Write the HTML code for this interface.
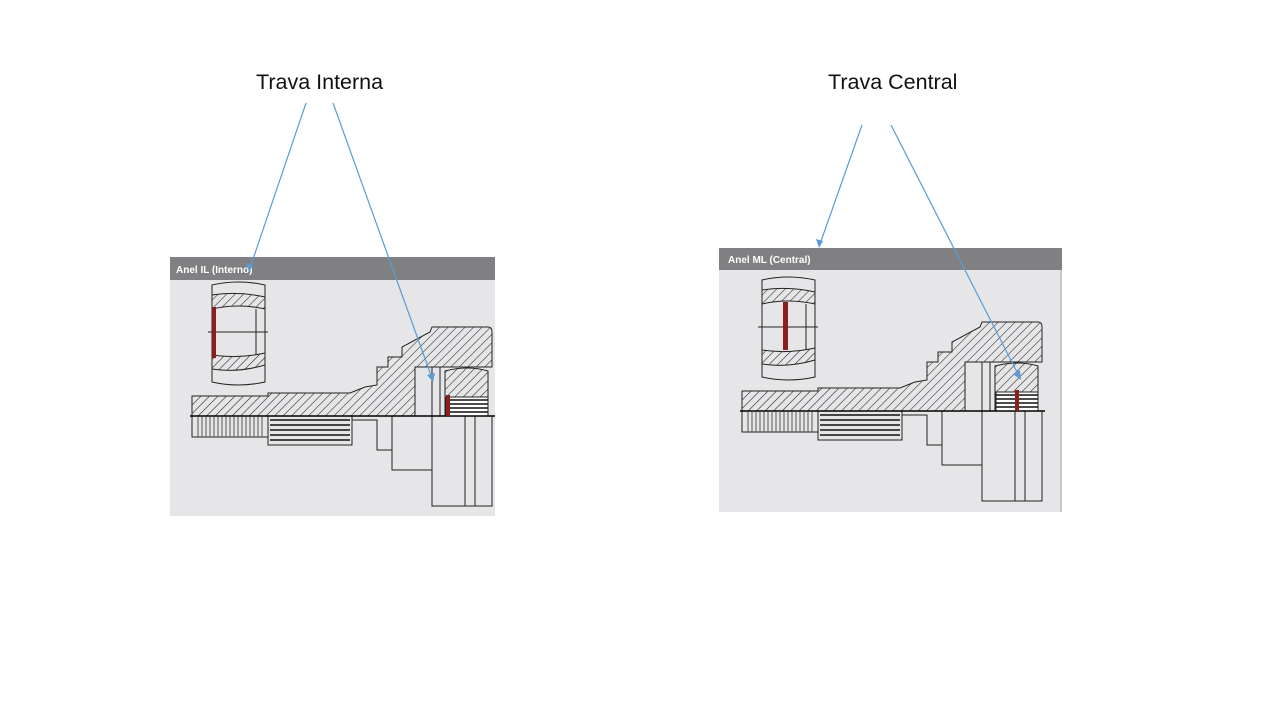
<!DOCTYPE html>
<html><head><meta charset="utf-8"><style>
html,body{margin:0;padding:0;background:#fff;}
body{width:1280px;height:720px;overflow:hidden;position:relative;font-family:"Liberation Sans",sans-serif;}
.t{position:absolute;font-size:21.5px;color:#111;white-space:nowrap;}
</style></head><body>
<div class="t" style="left:256px;top:70px;">Trava Interna</div>
<div class="t" style="left:828px;top:70px;">Trava Central</div>
<svg width="1280" height="720" style="position:absolute;left:0;top:0">
<defs>
<pattern id="h" width="6" height="6" patternUnits="userSpaceOnUse" patternTransform="rotate(45)">
<rect width="6" height="6" fill="#e6e6e8"/><line x1="0" y1="0" x2="0" y2="6" stroke="#222" stroke-width="1.1"/>
</pattern>
<g id="part" stroke="#222" stroke-width="1" fill="none">
<rect x="0" y="0" width="325" height="259" fill="#e6e6e8" stroke="none"/>
<path d="M42,28 Q68,22 95,28 L95,125 Q68,131 42,125 Z" fill="#e6e6e8"/>
<path d="M42,38 Q68,34 95,40 L95,52 Q68,46 42,52 Z" fill="url(#h)"/>
<path d="M42,98 Q68,102 95,96 L95,108 Q68,116 42,112 Z" fill="url(#h)"/>
<line x1="38" y1="75" x2="98" y2="75"/>
<line x1="86" y1="52" x2="86" y2="98"/>
<path d="M22,139 L98,139 L98,136 L180,136 L195,130 L207,128 L207,110 L218,110 L218,100 L232,100 L232,90 L260,75 L262,70 L318,70 Q322,70 322,75 L322,110 L245,110 L245,159 L22,159 Z" fill="url(#h)"/>
<rect x="245" y="110" width="25" height="49" fill="#e6e6e8"/>
<path d="M270,110 L270,159 M262,110 L262,159"/>
<path d="M275,114 Q298,108 318,114 L318,159 L275,159 Z" fill="url(#h)"/>
<rect x="276" y="140" width="42" height="19" fill="#fff"/>
<g stroke="#111" stroke-width="1.5">
<line x1="276" y1="143" x2="318" y2="143"/><line x1="276" y1="147" x2="318" y2="147"/><line x1="276" y1="151" x2="318" y2="151"/><line x1="276" y1="155" x2="318" y2="155"/>
</g>
<path d="M98,159 L98,188 L182,188 L182,159 M182,163 L207,163 L207,193 L222,193 L222,213 L262,213 L262,249 L322,249 L322,159" fill="#e6e6e8"/>
<path d="M222,159 L222,193 M262,159 L262,213 M295,159 L295,249 M305,159 L305,249"/>
<path d="M22,159 L22,180 L98,180" />
<g stroke="#555" stroke-width="1">
<path d="M28,160v20M32,160v20M36,160v20M40,160v20M44,160v20M48,160v20M52,160v20M56,160v20M60,160v20M64,160v20M68,160v20M72,160v20M76,160v20M80,160v20M84,160v20M88,160v20M92,160v20"/>
</g>
<g stroke="#111" stroke-width="1.5">
<path d="M100,163h80M100,168h80M100,173h80M100,178h80M100,183h80"/>
</g>
<line x1="20" y1="159" x2="325" y2="159" stroke="#000" stroke-width="1.5"/>
</g>
</defs>
<g transform="translate(170,257)"><use href="#part"/>
<rect x="42" y="50" width="4" height="51" fill="#8b1e1e"/>
<rect x="276" y="138" width="4" height="21" fill="#8b1e1e"/>
</g>
<rect x="170" y="257" width="325" height="23" fill="#808083"/>
<text x="176" y="273" font-family="Liberation Sans" font-size="10" font-weight="bold" fill="#fff">Anel IL (Interno)</text>
<rect x="719" y="248" width="343" height="264" fill="#e6e6e8"/>
<g transform="translate(720,252)"><use href="#part"/>
<rect x="63" y="50" width="5" height="48" fill="#8b1e1e"/>
<rect x="295" y="138" width="4" height="21" fill="#8b1e1e"/>
</g>
<rect x="719" y="248" width="343" height="22" fill="#808083"/>
<text x="728" y="263" font-family="Liberation Sans" font-size="10" font-weight="bold" fill="#fff">Anel ML (Central)</text>
<line x1="1061" y1="270" x2="1061" y2="512" stroke="#aaa"/>
<g stroke="#5b9bd5" stroke-width="1.2" fill="#5b9bd5">
<line x1="306" y1="103" x2="250" y2="268"/>
<line x1="333" y1="103" x2="432" y2="378"/>
<line x1="862" y1="125" x2="820" y2="244"/>
<line x1="891" y1="125" x2="1019" y2="376"/>
<polygon points="249,272 246,263 253,265" stroke="none"/>
<polygon points="433,382 427,375 435,373" stroke="none"/>
<polygon points="819,248 816,239 823,241" stroke="none"/>
<polygon points="1021,380 1013,374 1020,370" stroke="none"/>
</g>
</svg>
</body></html>
